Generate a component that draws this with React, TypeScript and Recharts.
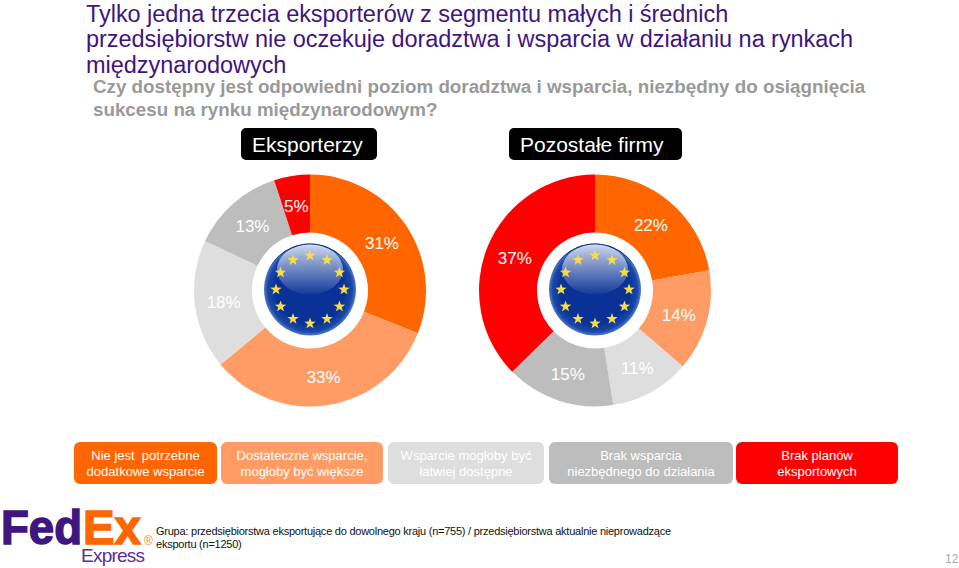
import { PieChart, Pie, Cell } from "recharts";

const FONT = "'Liberation Sans', Arial, sans-serif";
const PURPLE = "#3f1580";

const titleLines = [
  "Tylko jedna trzecia eksporterów z segmentu małych i średnich",
  "przedsiębiorstw nie oczekuje doradztwa i wsparcia w działaniu na rynkach",
  "międzynarodowych",
];
const subtitleLines = [
  "Czy dostępny jest odpowiedni poziom doradztwa i wsparcia, niezbędny do osiągnięcia",
  "sukcesu na rynku międzynarodowym?",
];
const footnoteLines = [
  "Grupa: przedsiębiorstwa eksportujące do dowolnego kraju (n=755) / przedsiębiorstwa aktualnie nieprowadzące",
  "eksportu (n=1250)",
];

const categories = [
  "Nie jest  potrzebne\ndodatkowe wsparcie",
  "Dostateczne wsparcie,\nmogłoby być większe",
  "Wsparcie mogłoby być\nłatwiej dostępne",
  "Brak wsparcia\nniezbędnego do działania",
  "Brak planów\neksportowych",
];
const colors = ["#ff6600", "#ff9c66", "#dedede", "#bdbdbd", "#ff0000"];
const exporters = [31, 33, 18, 13, 5];
const others = [22, 14, 11, 15, 37];

const legendBoxes = [
  { left: 74, width: 143 },
  { left: 221, width: 162 },
  { left: 388, width: 156 },
  { left: 549, width: 184 },
  { left: 736, width: 162 },
];

const RAD = Math.PI / 180;

const renderLabel = (props: any) => {
  const r = (props.innerRadius + props.outerRadius) / 2;
  const x = props.cx + r * Math.cos(-props.midAngle * RAD);
  const y = props.cy + r * Math.sin(-props.midAngle * RAD);
  return (
    <text
      x={x}
      y={y + 1.5}
      fill="#fff"
      fontFamily={FONT}
      fontSize={17}
      textAnchor="middle"
      dominantBaseline="central"
    >
      {`${props.value}%`}
    </text>
  );
};

const starPoints = (cx: number, cy: number, R: number) => {
  const pts: string[] = [];
  for (let i = 0; i < 10; i++) {
    const rr = i % 2 === 0 ? R : R * 0.4;
    const a = (-90 + i * 36) * RAD;
    pts.push(`${cx + rr * Math.cos(a)},${cy + rr * Math.sin(a)}`);
  }
  return pts.join(" ");
};

// the round flag badge in the middle of each donut
const Flag = ({ id, cx, cy }: { id: string; cx: number; cy: number }) => (
  <g>
    <defs>
      <radialGradient id={`${id}-blue`} cx="50%" cy="50%" r="50%">
        <stop offset="0%" stopColor="#0a3296" />
        <stop offset="75%" stopColor="#0a3296" />
        <stop offset="92%" stopColor="#1a47a8" />
        <stop offset="100%" stopColor="#4f7ccb" />
      </radialGradient>
      <linearGradient id={`${id}-gloss`} x1="0" y1="0" x2="0" y2="1">
        <stop offset="0%" stopColor="#ffffff" stopOpacity={0.78} />
        <stop offset="100%" stopColor="#ffffff" stopOpacity={0.04} />
      </linearGradient>
    </defs>
    <circle cx={cx} cy={cy - 1} r={46} fill={`url(#${id}-blue)`} />
    <path
      d={`M ${cx - 46} ${cy - 1} A 46 46 0 0 1 ${cx + 46} ${cy - 1} A 46 45 0 0 0 ${cx - 46} ${cy - 1} Z`}
      fill="#0a2a70"
    />
    <ellipse cx={cx} cy={cy - 21} rx={33} ry={25} fill={`url(#${id}-gloss)`} />
    {Array.from({ length: 12 }).map((_, i) => (
      <polygon
        key={i}
        points={starPoints(
          cx + 34 * Math.cos((i * 30 - 90) * RAD),
          cy - 1 + 34 * Math.sin((i * 30 - 90) * RAD),
          6,
        )}
        fill="#f7dc4a"
      />
    ))}
  </g>
);

const Donut = ({ id, values, left }: { id: string; values: number[]; left: number }) => {
  const chartData = categories.map((name, i) => ({ name, value: values[i] }));
  return (
    <div style={{ position: "absolute", left, top: 170 }}>
      <PieChart width={240} height={240} margin={{ top: 0, right: 0, bottom: 0, left: 0 }}>
        <Pie
          data={chartData}
          dataKey="value"
          cx={120}
          cy={120.5}
          innerRadius={58}
          outerRadius={116}
          startAngle={90}
          endAngle={-270}
          stroke="none"
          label={renderLabel}
          labelLine={false}
          isAnimationActive={false}
        >
          {chartData.map((_, index) => (
            <Cell key={`cell-${index}`} fill={colors[index]} />
          ))}
        </Pie>
        <Flag id={id} cx={120} cy={120.5} />
      </PieChart>
    </div>
  );
};

const Line = ({ text, style }: { text: string; style: React.CSSProperties }) => (
  <div style={{ position: "absolute", whiteSpace: "pre", ...style }}>{text}</div>
);

const Header = ({ text, left, width, textLeft }: { text: string; left: number; width: number; textLeft: number }) => (
  <div
    style={{
      position: "absolute",
      left,
      top: 128,
      width,
      height: 32,
      background: "#000",
      borderRadius: 5,
      color: "#fff",
      fontSize: 21,
      lineHeight: "33px",
      paddingLeft: textLeft,
      boxSizing: "border-box",
      whiteSpace: "pre",
    }}
  >
    {text}
  </div>
);

const App = () => (
  <div
    style={{
      position: "absolute",
      left: 0,
      top: 0,
      width: 959,
      height: 568,
      overflow: "hidden",
      background: "#fff",
      fontFamily: FONT,
    }}
  >
    {titleLines.map((t, i) => (
      <Line
        key={t}
        text={t}
        style={{
          left: 86,
          top: [1, 26, 52][i],
          fontSize: 23.5,
          lineHeight: "26px",
          color: PURPLE,
          letterSpacing: -0.05,
        }}
      />
    ))}
    {subtitleLines.map((t, i) => (
      <Line
        key={t}
        text={t}
        style={{
          left: 93,
          top: [75, 98][i],
          fontSize: 18.8,
          lineHeight: "24px",
          fontWeight: "bold",
          color: "#999",
        }}
      />
    ))}
    <Header text="Eksporterzy" left={241} width={136} textLeft={11} />
    <Header text="Pozostałe firmy" left={509} width={173} textLeft={11} />

    <Donut id="exp" values={exporters} left={190} />
    <Donut id="oth" values={others} left={475} />

    {categories.map((c, i) => (
      <div
        key={c}
        style={{
          position: "absolute",
          left: legendBoxes[i].left,
          top: 442,
          width: legendBoxes[i].width,
          height: 42,
          background: colors[i],
          borderRadius: 6,
          color: "#fff",
          fontSize: 13,
          lineHeight: "16px",
          paddingTop: 6,
          boxSizing: "border-box",
          textAlign: "center",
          whiteSpace: "pre",
        }}
      >
        {c}
      </div>
    ))}

    <svg style={{ position: "absolute", left: 0, top: 500 }} width={160} height={68}>
      <text
        x={1}
        y={44}
        fontFamily={FONT}
        fontWeight="bold"
        fontSize={48}
        fill={PURPLE}
        stroke={PURPLE}
        strokeWidth={1.5}
        textLength={81}
        lengthAdjust="spacingAndGlyphs"
      >
        Fed
      </text>
      <text
        x={83}
        y={44}
        fontFamily={FONT}
        fontWeight="bold"
        fontSize={48}
        fill="#ff6600"
        stroke="#ff6600"
        strokeWidth={1.5}
        textLength={58}
        lengthAdjust="spacingAndGlyphs"
      >
        Ex
      </text>
      <text x={81} y={62} fontFamily={FONT} fontSize={19} fill="#5a2d9a" textLength={64}>
        Express
      </text>
      <text x={144} y={45} fontFamily={FONT} fontSize={12} fill="#f08a24">
        ®
      </text>
    </svg>

    {footnoteLines.map((t, i) => (
      <Line
        key={t}
        text={t}
        style={{
          left: 156,
          top: [524, 537][i],
          fontSize: 11,
          lineHeight: "14px",
          letterSpacing: -0.24,
          color: "#111",
        }}
      />
    ))}
    <Line text="12" style={{ left: 945, top: 552, fontSize: 12, lineHeight: "14px", color: "#aaa" }} />
  </div>
);

export default App;
